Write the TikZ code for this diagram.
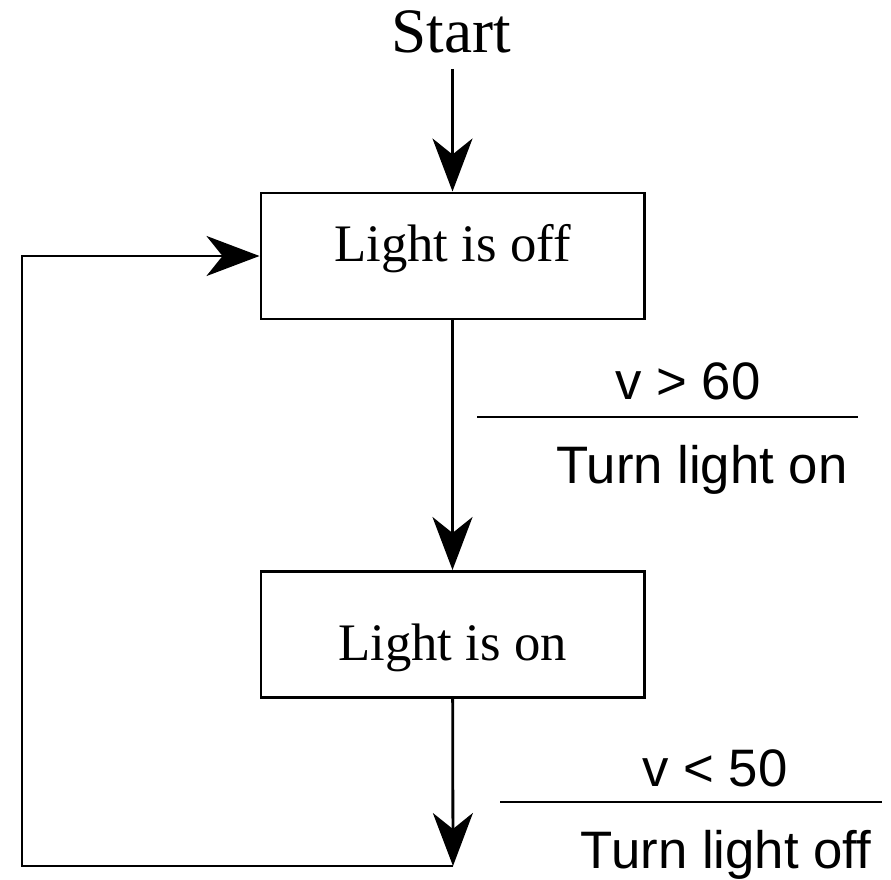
\documentclass[tikz,border=0pt]{standalone}
\usepackage{fontspec}
\setmainfont{Liberation Serif}
\setsansfont{Liberation Sans}
\usetikzlibrary{arrows.meta}
\tikzset{
  state/.style={draw,line width=1.7pt,minimum width=7.66cm,minimum height=2.52cm,
    font=\fontsize{30}{36}\selectfont},
  guard/.style={anchor=base,inner sep=0pt,font=\sffamily\fontsize{30}{36}\selectfont},
  flow/.style={line width=1.6pt,-{Stealth[length=1.06cm,width=0.8cm,inset=0.32cm]}}
}
\begin{document}
\begin{tikzpicture}
   \useasboundingbox (0,0) rectangle (17.82,-17.58);
   \node[anchor=base,inner sep=0pt,font=\fontsize{36}{42}\selectfont] (start) at (9.02,-1.06) {Start};
   \node[state,text height=0.72cm,text depth=0.52cm] (off) at (9.05,-5.12) {Light is off};
   \node[state,text height=1.25cm,text depth=0.23cm] (on) at (9.05,-12.69) {Light is on};
   \coordinate (bend) at (9.06,-17.32);
   \coordinate (corner) at (0.44,-17.32);
   \draw[flow,shorten <=0.3cm] (start.south -| off.north) -- (off.north);
   \draw[flow] (off) -- (on);
   \draw[flow] (on) -- (bend);
   \draw[flow] (bend) -- (corner) |- (off.west);
   % guards and actions
   \foreach \n/\x/\y/\t in {g1/13.76/-7.98/{v > 60}, a1/14.04/-9.66/{Turn light on},
                            g2/14.3/-15.72/{v < 50}, a2/14.52/-17.36/{Turn light off}}
     \node[guard] (\n) at (\x,\y) {\t};
   \draw[line width=1.6pt] (9.54,-8.34) -- (17.16,-8.34);
   \draw[line width=1.6pt] (10.0,-16.04) -- (17.64,-16.04);
\end{tikzpicture}
\end{document}
